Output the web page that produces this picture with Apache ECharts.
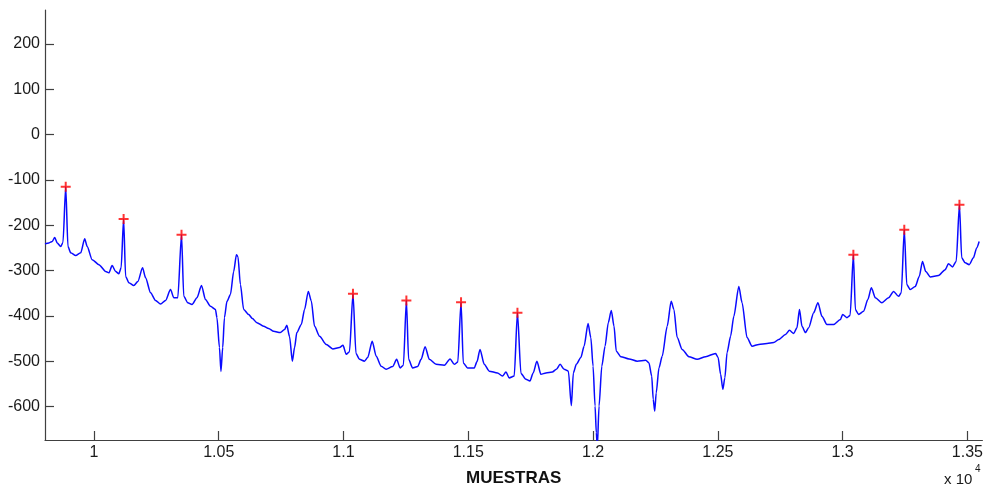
<!DOCTYPE html>
<html>
<head>
<meta charset="utf-8">
<script src="https://cdn.jsdelivr.net/npm/echarts@6/dist/echarts.min.js"></script>
<style>
html,body{margin:0;padding:0;background:#fff;}
#chart{width:986px;height:492px;}
</style>
</head>
<body>
<div id="chart"></div>
<script>
// ECG trace (sample index, amplitude)
var ecgSamples = [9804,9820,9833,9843,9853,9867,9876,9887,9896,9907,9927,9947,9963,9973,9993,10020,10047,10060,10073,10087,10100,10109,10119,10127,10140,10160,10176,10195,10207,10227,10247,10267,10287,10307,10320,10336,10351,10360,10376,10393,10413,10431,10447,10467,10487,10493,10503,10509,10516,10523,10533,10547,10560,10571,10577,10587,10600,10620,10635,10653,10680,10700,10720,10747,10764,10773,10784,10795,10804,10813,10831,10844,10859,10871,10884,10904,10931,10957,10984,10998,11011,11024,11038,11050,11064,11084,11097,11115,11131,11151,11171,11197,11213,11227,11240,11252,11261,11277,11297,11311,11327,11344,11371,11404,11427,11444,11458,11471,11480,11497,11524,11535,11547,11564,11584,11617,11637,11651,11664,11684,11697,11711,11731,11747,11760,11775,11791,11811,11837,11853,11868,11884,11901,11913,11921,11933,11951,11964,11980,11991,12000,12008,12013,12017,12024,12035,12048,12061,12073,12084,12093,12111,12144,12177,12211,12224,12235,12241,12247,12253,12264,12277,12297,12313,12324,12337,12357,12384,12417,12451,12491,12501,12511,12520,12528,12537,12551,12564,12584,12597,12617,12637,12664,12697,12724,12744,12771,12787,12804,12817,12827,12837,12851,12864,12884,12901,12917,12937,12964,12991,13000,13017,13030,13043,13051,13064,13084,13101,13115,13131,13157,13184,13204,13224,13235,13247,13257,13271,13291,13307,13320,13333,13351,13384,13411,13424,13440,13455,13468,13477,13491,13507,13524,13537,13547];
var ecgValues = [-241,-239,-236,-227,-239,-247,-238,-115,-247,-261,-267,-261,-230,-247,-276,-287,-302,-305,-289,-302,-307,-294,-186,-313,-327,-333,-324,-294,-316,-349,-366,-374,-366,-342,-360,-360,-221,-357,-371,-375,-360,-333,-364,-379,-386,-404,-470,-523,-470,-404,-368,-353,-302,-265,-269,-331,-386,-397,-406,-415,-423,-428,-434,-437,-430,-421,-446,-500,-470,-437,-419,-386,-346,-367,-423,-445,-463,-473,-470,-465,-485,-479,-351,-483,-496,-500,-492,-456,-489,-511,-518,-512,-496,-515,-509,-366,-496,-515,-512,-496,-468,-496,-507,-509,-495,-507,-502,-370,-504,-515,-515,-501,-474,-507,-522,-526,-533,-524,-537,-533,-393,-527,-540,-544,-526,-500,-529,-526,-524,-518,-507,-518,-522,-598,-526,-507,-492,-467,-417,-448,-511,-599,-658,-690,-599,-511,-467,-415,-388,-423,-478,-490,-495,-500,-498,-504,-533,-584,-610,-570,-515,-489,-423,-368,-386,-448,-474,-490,-496,-490,-483,-492,-529,-562,-537,-481,-445,-401,-335,-371,-448,-467,-463,-461,-459,-452,-441,-432,-439,-426,-386,-423,-437,-426,-393,-371,-401,-419,-419,-408,-397,-404,-399,-265,-386,-397,-390,-364,-338,-360,-371,-360,-346,-357,-349,-210,-331,-342,-335,-313,-280,-302,-314,-311,-298,-285,-292,-280,-155,-272,-283,-287,-272,-250,-236];

// detected R peaks (red +)
var peakSamples = [9887,10119,10351,11038,11252,11471,11697,13043,13247,13468];
var peakValues  = [-115,-186,-221,-351,-366,-370,-393,-265,-210,-155];

// axis ticks
var xTickValues = [10000,10500,11000,11500,12000,12500,13000,13500];
var yTickValues = [-600,-500,-400,-300,-200,-100,0,100,200];
var xRange = [9804, 13560];
var yRange = [-674, 275];

var ecgData = ecgSamples.map(function(s,i){return [s, ecgValues[i]];});
var peakData = peakSamples.map(function(s,i){return [s, peakValues[i]];});

var chart = echarts.init(document.getElementById('chart'), null, {renderer:'canvas'});
var labelFont = "'Liberation Sans', Arial, sans-serif";
chart.setOption({
  animation: false,
  backgroundColor: '#ffffff',
  grid: {left: 45, right: 2, top: 10, bottom: 51.5, containLabel: false},
  xAxis: {
    type: 'value',
    min: xRange[0], max: xRange[1],
    name: 'MUESTRAS',
    nameLocation: 'middle',
    nameGap: 30,
    nameTextStyle: {fontFamily: "'Liberation Sans Narrow', 'Liberation Sans', Arial, sans-serif", fontWeight: 'bold', fontSize: 17, color: '#111'},
    axisLine: {show: true, onZero: false, lineStyle: {color: '#404040', width: 1.2}},
    axisTick: {show: true, inside: true, length: 9, customValues: xTickValues, lineStyle: {color: '#404040', width: 1.2}},
    axisLabel: {customValues: xTickValues, margin: 5, fontFamily: labelFont, fontSize: 16, color: '#1a1a1a',
      formatter: function(v){ return String(parseFloat((v/10000).toFixed(2))); }},
    splitLine: {show: false}
  },
  yAxis: {
    type: 'value',
    min: yRange[0], max: yRange[1],
    axisLine: {show: true, onZero: false, lineStyle: {color: '#404040', width: 1.2}},
    axisTick: {show: true, inside: true, length: 9, customValues: yTickValues, lineStyle: {color: '#404040', width: 1.2}},
    axisLabel: {customValues: yTickValues, margin: 5, fontFamily: labelFont, fontSize: 16, color: '#1a1a1a'},
    splitLine: {show: false}
  },
  graphic: [
    {type: 'text', left: 944, top: 472, style: {text: 'x 10', font: "15px 'Liberation Sans', Arial, sans-serif", fill: '#1a1a1a'}},
    {type: 'text', left: 975, top: 464, style: {text: '4', font: "10px 'Liberation Sans', Arial, sans-serif", fill: '#1a1a1a'}}
  ],
  series: [
    {
      type: 'line',
      data: ecgData,
      showSymbol: false,
      symbol: 'none',
      clip: true,
      smooth: 0.25,
      smoothMonotone: 'x',
      lineStyle: {color: '#0a0aff', width: 1.5},
      z: 2
    },
    {
      type: 'scatter',
      data: peakData,
      symbol: 'path://M4,0H6V4H10V6H6V10H4V6H0V4H4Z',
      symbolSize: 10,
      itemStyle: {color: '#ff0000'},
      z: 3
    }
  ]
});
</script>
</body>
</html>
